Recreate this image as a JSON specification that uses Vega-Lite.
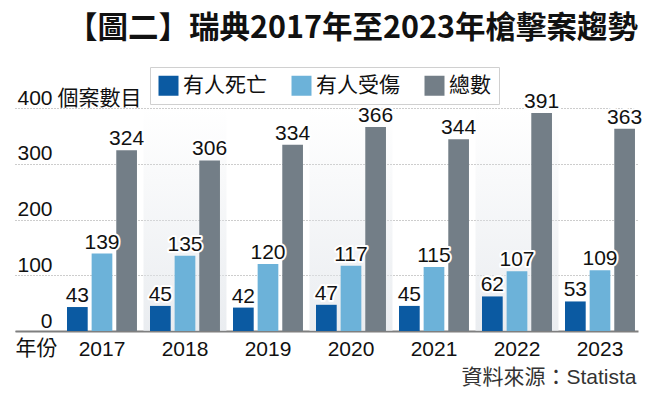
{
  "$schema": "https://vega.github.io/schema/vega-lite/v6.json",
  "width": 623,
  "height": 223,
  "autosize": {"type": "none"},
  "padding": {"left": 15, "top": 108, "right": 22, "bottom": 64},
  "background": "white",
  "config": {"view": {"stroke": null}, "font": "Liberation Sans, Noto Sans CJK TC"},
  "title": {
    "text": "【圖二】瑞典2017年至2023年槍擊案趨勢",
    "font": "Noto Sans CJK TC",
    "fontWeight": "bold",
    "fontSize": 30.5,
    "color": "#111111",
    "anchor": "start",
    "frame": "group",
    "dx": 52,
    "dy": 12,
    "offset": 10,
    "baseline": "alphabetic"
  },
  "datasets": {
    "counts": [
      {"year": "2017", "series": "有人死亡", "value": 43},
      {"year": "2017", "series": "有人受傷", "value": 139},
      {"year": "2017", "series": "總數", "value": 324},
      {"year": "2018", "series": "有人死亡", "value": 45},
      {"year": "2018", "series": "有人受傷", "value": 135},
      {"year": "2018", "series": "總數", "value": 306},
      {"year": "2019", "series": "有人死亡", "value": 42},
      {"year": "2019", "series": "有人受傷", "value": 120},
      {"year": "2019", "series": "總數", "value": 334},
      {"year": "2020", "series": "有人死亡", "value": 47},
      {"year": "2020", "series": "有人受傷", "value": 117},
      {"year": "2020", "series": "總數", "value": 366},
      {"year": "2021", "series": "有人死亡", "value": 45},
      {"year": "2021", "series": "有人受傷", "value": 115},
      {"year": "2021", "series": "總數", "value": 344},
      {"year": "2022", "series": "有人死亡", "value": 62},
      {"year": "2022", "series": "有人受傷", "value": 107},
      {"year": "2022", "series": "總數", "value": 391},
      {"year": "2023", "series": "有人死亡", "value": 53},
      {"year": "2023", "series": "有人受傷", "value": 109},
      {"year": "2023", "series": "總數", "value": 363}
    ],
    "bands": [
      {"year": "2018"},
      {"year": "2020"},
      {"year": "2022"}
    ]
  },
  "resolve": {"axis": {"x": "independent"}},
  "layer": [
    {
      "data": {"name": "bands"},
      "mark": {
        "type": "bar",
        "width": {"band": 1.186},
        "color": {
          "gradient": "linear",
          "x1": 0, "y1": 0, "x2": 0, "y2": 1,
          "stops": [
            {"offset": 0, "color": "rgba(225,229,234,0)"},
            {"offset": 1, "color": "rgba(225,229,234,0.7)"}
          ]
        }
      },
      "encoding": {
        "x": {
          "field": "year", "type": "nominal",
          "scale": {"domain": ["2017","2018","2019","2020","2021","2022","2023"], "paddingInner": 0.157, "paddingOuter": 0.3315, "align": 0.945},
          "axis": {
            "orient": "bottom",
            "title": "資料來源：Statista",
            "labels": false, "ticks": false, "domain": false, "grid": false,
            "titleX": 621, "titleY": 52, "titleAlign": "right", "titleBaseline": "alphabetic",
            "titleFont": "Liberation Sans, Noto Sans CJK TC", "titleFontSize": 21,
            "titleFontWeight": "normal", "titleColor": "#333333"
          }
        },
        "y": {"datum": 400, "type": "quantitative", "scale": {"domain": [0, 400], "nice": false}},
        "y2": {"datum": 0}
      }
    },
    {
      "layer": [
        {
          "data": {"name": "counts"},
          "mark": {"type": "bar"},
          "encoding": {
            "x": {
              "field": "year", "type": "nominal",
              "axis": {
                "orient": "bottom",
                "title": "年份", "titleX": 0, "titleY": 23, "titleAlign": "left", "titleBaseline": "alphabetic",
                "titleFont": "Noto Sans CJK TC", "titleFontSize": 21, "titleFontWeight": "normal", "titleColor": "#111111",
                "labelFont": "Liberation Sans", "labelFontSize": 21, "labelColor": "#111111",
                "labelPadding": 24, "labelBaseline": "alphabetic", "labelAngle": 0,
                "ticks": false, "grid": false,
                "domainColor": "#7f7f7f", "domainWidth": 2
              }
            },
            "xOffset": {
              "field": "series", "type": "nominal",
              "sort": ["有人死亡", "有人受傷", "總數"],
              "scale": {"paddingInner": 0.16, "paddingOuter": 0}
            },
            "y": {
              "field": "value", "type": "quantitative",
              "axis": {
                "orient": "left",
                "title": "個案數目", "titleX": 42, "titleY": -4, "titleAngle": 0, "titleAlign": "left", "titleBaseline": "alphabetic",
                "titleFont": "Noto Sans CJK TC", "titleFontSize": 21, "titleFontWeight": "normal", "titleColor": "#111111",
                "values": [0, 100, 200, 300, 400],
                "labelAlign": "right", "labelBaseline": "alphabetic", "labelPadding": -37, "labelOffset": -4,
                "ticks": false, "domain": false,
                "labelFont": "Liberation Sans", "labelFontSize": 21, "labelColor": "#111111",
                "labelFlush": false, "labelOverlap": false,
                "grid": true, "gridColor": "#9a9a9a", "gridDash": [1, 2], "gridWidth": 1
              }
            },
            "color": {
              "field": "series", "type": "nominal",
              "sort": ["有人死亡", "有人受傷", "總數"],
              "scale": {"domain": ["有人死亡", "有人受傷", "總數"], "range": ["#0b5aa2", "#6cb2d9", "#737e87"]},
              "legend": {
                "orient": "none", "legendX": 135, "legendY": -41,
                "direction": "horizontal", "columns": 3, "title": null,
                "symbolType": "square", "symbolSize": 400, "symbolStrokeWidth": 0, "symbolOpacity": 1,
                "labelFont": "Noto Sans CJK TC", "labelFontSize": 21, "labelColor": "#111111",
                "labelOffset": 4, "columnPadding": 24, "padding": 8,
                "fillColor": "white", "strokeColor": "#d0d0d0"
              }
            }
          }
        },
        {
          "data": {"name": "counts"},
          "mark": {"type": "text", "baseline": "alphabetic", "dy": -5, "font": "Liberation Sans", "fontSize": 21, "fill": "white", "stroke": "white", "strokeWidth": 4, "strokeJoin": "round"},
          "encoding": {
            "x": {"field": "year", "type": "nominal"},
            "xOffset": {"field": "series", "type": "nominal", "sort": ["有人死亡", "有人受傷", "總數"]},
            "y": {"field": "value", "type": "quantitative"},
            "text": {"field": "value", "type": "quantitative"}
          }
        },
        {
          "data": {"name": "counts"},
          "mark": {"type": "text", "baseline": "alphabetic", "dy": -5, "font": "Liberation Sans", "fontSize": 21, "fill": "#111111"},
          "encoding": {
            "x": {"field": "year", "type": "nominal"},
            "xOffset": {"field": "series", "type": "nominal", "sort": ["有人死亡", "有人受傷", "總數"]},
            "y": {"field": "value", "type": "quantitative"},
            "text": {"field": "value", "type": "quantitative"}
          }
        }
      ]
    }
  ]
}
